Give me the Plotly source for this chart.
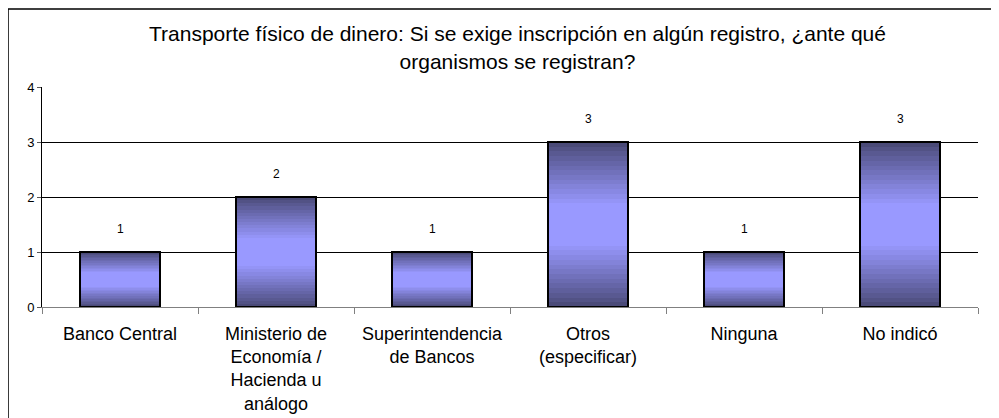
import plotly.graph_objects as go

categories = ["Banco Central", "Ministerio de Economía / Hacienda u análogo",
              "Superintendencia de Bancos", "Otros (especificar)", "Ninguna", "No indicó"]
tick_labels = ["Banco Central", "Ministerio de<br>Economía /<br>Hacienda u<br>análogo",
               "Superintendencia<br>de Bancos", "Otros<br>(especificar)", "Ninguna", "No indicó"]
values = [1, 2, 1, 3, 1, 3]

title = ("Transporte físico de dinero: Si se exige inscripción en algún registro, ¿ante qué"
         "<br>organismos se registran?")

FONT = "Liberation Sans, Arial, sans-serif"
BAR_W = 0.51

# vertical gradient: dark at top/bottom, light in the middle (drawn as nested overlay bars)
dark = (74, 74, 120)
light = (153, 153, 255)
steps = 14

fig = go.Figure()
for k in range(steps):
    f = 0.4 * k / steps          # fraction trimmed from top and bottom
    t = (k / (steps - 1)) ** 0.9
    col = "rgb({},{},{})".format(*[round(d + (l - d) * t) for d, l in zip(dark, light)])
    fig.add_trace(go.Bar(
        x=categories, y=[v * (1 - 2 * f) for v in values], base=[v * f for v in values],
        width=BAR_W, marker=dict(color=col, line=dict(width=0)),
        hoverinfo="skip", showlegend=False))

# outline
fig.add_trace(go.Bar(x=categories, y=values, width=BAR_W,
                     marker=dict(color="rgba(0,0,0,0)", line=dict(color="black", width=2)),
                     showlegend=False))

for c, v in zip(categories, values):
    fig.add_annotation(x=c, y=v, text=str(v), showarrow=False, yshift=23,
                       font=dict(size=12, color="black", family=FONT))

# outer chart frame (right and bottom edges fall outside the view)
fig.add_shape(type="rect", xref="paper", yref="paper", x0=-0.0363, x1=1.2, y0=-1, y1=1.354,
              line=dict(color="black", width=1.5), layer="below")

fig.update_layout(
    width=999, height=418,
    margin=dict(l=34, r=29, t=79, b=119),
    barmode="overlay", bargap=0,
    paper_bgcolor="white", plot_bgcolor="white",
    font=dict(family=FONT, color="black"),
    title=dict(text=title, x=0.51, xanchor="center", y=0.92, yanchor="top",
               font=dict(size=21, family=FONT, color="black")),
)
fig.update_xaxes(tickvals=categories, ticktext=tick_labels, tickfont=dict(size=18),
                 showline=True, linecolor="#808080", linewidth=1,
                 ticks="outside", tickson="boundaries", ticklen=6, tickcolor="#808080",
                 ticklabelstandoff=10, showgrid=False)
fig.update_yaxes(range=[0, 4], dtick=1, tickfont=dict(size=13),
                 showline=True, linecolor="black", linewidth=1,
                 ticks="outside", ticklen=4, tickcolor="#555555",
                 showgrid=True, gridcolor="black", gridwidth=1, zeroline=False)

fig.write_html("out.html")
